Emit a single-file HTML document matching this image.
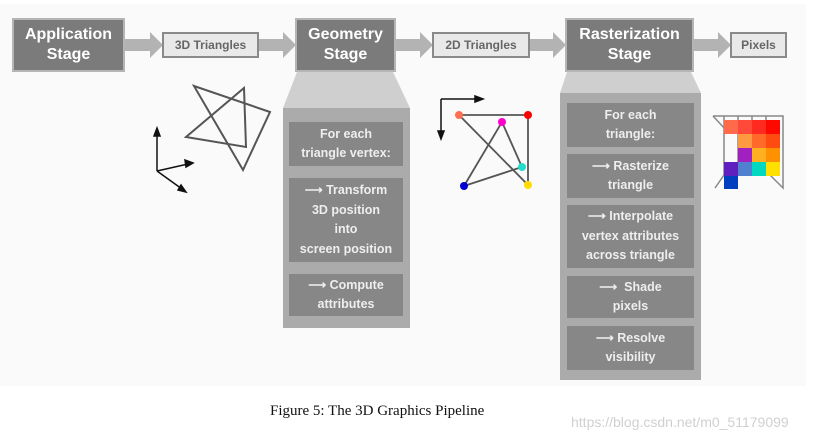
<!DOCTYPE html>
<html><head><meta charset="utf-8"><style>
body{margin:0;width:829px;height:444px;background:#fff;overflow:hidden;position:relative;font-family:"Liberation Sans",sans-serif}
.bg{position:absolute;left:0;top:4px;width:806px;height:382px;background:#fafafa}
.st{position:absolute;background:#7b7b7b;border:2px solid #b5b5b5;color:#fff;font-weight:bold;font-size:16px;line-height:20px;text-align:center;display:flex;align-items:center;justify-content:center;box-sizing:border-box}
.lb{position:absolute;background:#e9e9e9;border:2px solid #8a8a8a;color:#666;font-weight:bold;font-size:12px;text-align:center;box-sizing:border-box;line-height:22px}
.pn{position:absolute;background:#ababab}
.bx{position:absolute;background:#878787;color:#eee;font-weight:bold;font-size:12.5px;line-height:19.5px;text-align:center;display:flex;align-items:center;justify-content:center;box-sizing:border-box}
</style></head><body>
<div class="bg"></div>
<svg width="829" height="444" style="position:absolute;left:0;top:0">
<g fill="#b3b3b3">
<polygon points="124,39 150,39 150,32 163,45 150,58 150,51 124,51"/>
<polygon points="258,39 283,39 283,32 296,45 283,58 283,51 258,51"/>
<polygon points="395,39 420,39 420,32 433,45 420,58 420,51 395,51"/>
<polygon points="529,39 553,39 553,32 566,45 553,58 553,51 529,51"/>
<polygon points="693,39 718,39 718,32 731,45 718,58 718,51 693,51"/>
</g>
<polygon points="297,72 393,72 410,108 283,108" fill="#cfcfcf"/>
<polygon points="567,72 691,72 701,93 560,93" fill="#cfcfcf"/>
<g fill="none" stroke="#555" stroke-width="2">
<polygon points="194,86 270,112 243,170"/>
<polygon points="244,88 246,147 186,137"/>
</g>
<g stroke="#111" stroke-width="1.5" fill="#111">
<line x1="157" y1="171" x2="157" y2="133"/><polygon points="157,128 154,136 160,136"/>
<line x1="157" y1="171" x2="188" y2="164"/><polygon points="193,163 185,160 186,167"/>
<line x1="157" y1="171" x2="182" y2="189"/><polygon points="186,192 181,185 178,190"/>
<line x1="441" y1="99" x2="478" y2="99"/><polygon points="483,99 475,96 475,102"/>
<line x1="441" y1="99" x2="441" y2="134"/><polygon points="441,139 438,131 444,131"/>
</g>
<g stroke="#555" stroke-width="1.8">
<line x1="459" y1="115" x2="528" y2="115"/><line x1="528" y1="115" x2="528" y2="185"/>
<line x1="459" y1="115" x2="528" y2="185"/><line x1="502" y1="122" x2="464" y2="186"/>
<line x1="502" y1="122" x2="522" y2="167"/><line x1="464" y1="186" x2="522" y2="167"/>
</g>
<circle cx="459" cy="115" r="4" fill="#ff7050"/><circle cx="528" cy="115" r="4" fill="#f00"/>
<circle cx="502" cy="122" r="4" fill="#f0c"/><circle cx="522" cy="167" r="4" fill="#2dc"/>
<circle cx="464" cy="186" r="4" fill="#00c"/><circle cx="528" cy="185" r="4" fill="#fd0"/>
<g stroke="#888" stroke-width="1.5" fill="none">
<polyline points="713,116 783,116 783,188 770,175"/>
<line x1="724" y1="116" x2="724" y2="175"/><line x1="738" y1="116" x2="738" y2="175"/><line x1="752" y1="116" x2="752" y2="175"/><line x1="766" y1="116" x2="766" y2="175"/>
<line x1="713" y1="116" x2="726" y2="130"/><line x1="715" y1="188" x2="724" y2="175"/>
</g>
<g>
<rect x="724" y="120" width="14" height="14" fill="#ff6a4a"/><rect x="738" y="120" width="14" height="14" fill="#ff4a3a"/><rect x="752" y="120" width="14" height="14" fill="#ff2a20"/><rect x="766" y="120" width="14" height="14" fill="#ff0800"/>
<rect x="738" y="134" width="14" height="14" fill="#ff9a40"/><rect x="752" y="134" width="14" height="14" fill="#ff6a2a"/><rect x="766" y="134" width="14" height="14" fill="#ff4a10"/>
<rect x="738" y="148" width="14" height="14" fill="#a020c0"/><rect x="752" y="148" width="14" height="14" fill="#ffb020"/><rect x="766" y="148" width="14" height="14" fill="#ff9000"/>
<rect x="724" y="162" width="14" height="14" fill="#6020c0"/><rect x="738" y="162" width="14" height="14" fill="#5080d0"/><rect x="752" y="162" width="14" height="14" fill="#00d8c0"/><rect x="766" y="162" width="14" height="14" fill="#ffe000"/>
<rect x="724" y="176" width="14" height="13" fill="#0040c0"/>
</g>
</svg>
<div class="st" style="left:12px;top:18px;width:113px;height:54px">Application<br>Stage</div>
<div class="lb" style="left:162px;top:32px;width:97px;height:26px">3D Triangles</div>
<div class="st" style="left:295px;top:18px;width:101px;height:54px">Geometry<br>Stage</div>
<div class="lb" style="left:432px;top:32px;width:98px;height:26px">2D Triangles</div>
<div class="st" style="left:565px;top:18px;width:129px;height:54px">Rasterization<br>Stage</div>
<div class="lb" style="left:730px;top:32px;width:57px;height:26px">Pixels</div>
<div class="pn" style="left:283px;top:108px;width:127px;height:220px"></div>
<div class="bx" style="left:289px;top:122px;width:114px;height:44px">For each<br>triangle vertex:</div>
<div class="bx" style="left:289px;top:178px;width:114px;height:84px">⟶ Transform<br>3D position<br>into<br>screen position</div>
<div class="bx" style="left:289px;top:274px;width:114px;height:42px">⟶ Compute<br>attributes</div>
<div class="pn" style="left:560px;top:93px;width:141px;height:287px"></div>
<div class="bx" style="left:567px;top:103px;width:127px;height:44px">For each<br>triangle:</div>
<div class="bx" style="left:567px;top:154px;width:127px;height:44px">⟶ Rasterize<br>triangle</div>
<div class="bx" style="left:567px;top:205px;width:127px;height:63px">⟶ Interpolate<br>vertex attributes<br>across triangle</div>
<div class="bx" style="left:567px;top:276px;width:127px;height:42px">⟶ &nbsp;Shade<br>pixels</div>
<div class="bx" style="left:567px;top:326px;width:127px;height:44px">⟶ Resolve<br>visibility</div>
<div style="position:absolute;left:270px;top:403px;font-family:'Liberation Serif',serif;font-size:15px;color:#111">Figure 5: The 3D Graphics Pipeline</div>
<div style="position:absolute;left:571px;top:414px;font-size:14px;color:#d0d0d0">https://blog.csdn.net/m0_51179099</div>
</body></html>
